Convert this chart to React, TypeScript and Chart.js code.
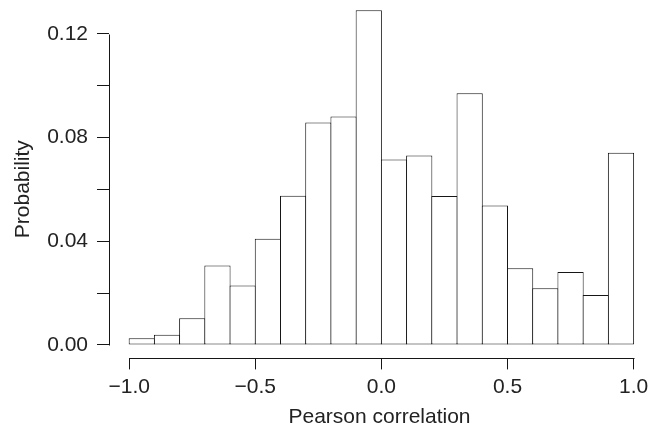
import React, { useEffect, useRef } from "react";
import { Chart, registerables } from "chart.js";

Chart.register(...registerables);

// Histogram bins (centres of 0.1-wide bins from -1 to 1)
const binCenters = [
  -0.95, -0.85, -0.75, -0.65, -0.55, -0.45, -0.35, -0.25, -0.15, -0.05,
  0.05, 0.15, 0.25, 0.35, 0.45, 0.55, 0.65, 0.75, 0.85, 0.95,
];
const probabilities = [
  0.0026, 0.004, 0.0103, 0.0307, 0.023, 0.041, 0.0576, 0.0858, 0.0882, 0.1291,
  0.0716, 0.0731, 0.0575, 0.0971, 0.0538, 0.0296, 0.0219, 0.0282, 0.0193, 0.0742,
];

const xTickValues = [-1, -0.5, 0, 0.5, 1];
const xTickLabels = ["\u22121.0", "\u22120.5", "0.0", "0.5", "1.0"];
const yTickValues = [0, 0.02, 0.04, 0.06, 0.08, 0.1, 0.12];
const yTickLabels = ["0.00", "", "0.04", "", "0.08", "", "0.12"];

const xTitle = "Pearson correlation";
const yTitle = "Probability";

const INK = "#161616";
const TEXT = "#222222";
const FONT = "'Liberation Sans', Arial, Helvetica, sans-serif";
const FS = 21;

export default function App() {
  const ref = useRef<HTMLCanvasElement | null>(null);

  useEffect(() => {
    if (!ref.current) return;

    const axisDecor = {
      id: "rAxisDecor",
      afterDraw(chart: any) {
        const { ctx, chartArea, scales } = chart;
        const xs = scales.x;
        const ys = scales.y;
        ctx.save();
        ctx.strokeStyle = INK;
        ctx.lineWidth = 1;
        const yx = Math.round(chartArea.left) + 0.5;
        ctx.beginPath();
        ctx.moveTo(yx, Math.round(ys.getPixelForValue(yTickValues[0])) + 0.5);
        ctx.lineTo(yx, Math.round(ys.getPixelForValue(yTickValues[yTickValues.length - 1])) + 0.5);
        ctx.stroke();
        const xy = Math.round(chartArea.bottom) + 0.5;
        ctx.beginPath();
        ctx.moveTo(Math.round(xs.getPixelForValue(xTickValues[0])) + 0.5, xy);
        ctx.lineTo(Math.round(xs.getPixelForValue(xTickValues[xTickValues.length - 1])) + 0.5, xy);
        ctx.stroke();

        // y-axis title, centred a little below the middle of the plot region (as in R's mtext)
        ctx.fillStyle = TEXT;
        ctx.font = `${FS}px ${FONT}`;
        ctx.textAlign = "center";
        ctx.textBaseline = "middle";
        ctx.translate(23, (chartArea.top + chartArea.bottom) / 2 + 10);
        ctx.rotate(-Math.PI / 2);
        ctx.fillText(yTitle, 0, 0);
        ctx.restore();
      },
    };

    const chart = new Chart(ref.current, {
      type: "bar",
      data: {
        datasets: [
          {
            data: binCenters.map((c, i) => ({ x: c, y: probabilities[i] })),
            backgroundColor: "#ffffff",
            borderColor: INK,
            borderWidth: 1,
            borderSkipped: false,
            barPercentage: 1.04,
            categoryPercentage: 1,
          } as any,
        ],
      },
      options: {
        animation: false,
        responsive: false,
        maintainAspectRatio: false,
        layout: { padding: 0 },
        plugins: {
          legend: { display: false },
          tooltip: { enabled: false },
        },
        scales: {
          x: {
            type: "linear",
            min: -1.08,
            max: 1.065,
            offset: false,
            afterBuildTicks: (s: any) => {
              s.ticks = xTickValues.map((v) => ({ value: v }));
            },
            afterFit: (s: any) => {
              s.height = 70.6;
              s.paddingLeft = 0;
              s.paddingRight = 0;
              s.paddingTop = 0;
              s.paddingBottom = 0;
            },
            ticks: {
              autoSkip: false,
              maxRotation: 0,
              minRotation: 0,
              padding: 5,
              color: TEXT,
              font: { family: FONT, size: FS },
              callback: (_v: any, i: number) => xTickLabels[i],
            },
            grid: {
              offset: false,
              drawOnChartArea: false,
              drawTicks: true,
              tickLength: 11,
              color: INK,
              lineWidth: 1,
            },
            border: { display: false },
            title: {
              display: true,
              text: xTitle,
              color: TEXT,
              font: { family: FONT, size: FS },
              padding: { top: 0, bottom: -1 },
            },
          },
          y: {
            type: "linear",
            min: -0.00517,
            max: 0.1331,
            afterBuildTicks: (s: any) => {
              s.ticks = yTickValues.map((v) => ({ value: v }));
            },
            afterFit: (s: any) => {
              s.width = 109;
              s.paddingLeft = 0;
              s.paddingRight = 0;
              s.paddingTop = 0;
              s.paddingBottom = 0;
            },
            ticks: {
              autoSkip: false,
              padding: 9,
              color: TEXT,
              font: { family: FONT, size: FS },
              callback: (_v: any, i: number) => yTickLabels[i],
            },
            grid: {
              drawOnChartArea: false,
              drawTicks: true,
              tickLength: 12,
              color: INK,
              lineWidth: 1,
            },
            border: { display: false },
            title: { display: false },
          },
        },
      },
      plugins: [axisDecor],
    });

    return () => chart.destroy();
  }, []);

  return (
    <div
      style={{
        position: "fixed",
        left: 0,
        top: 0,
        width: 650,
        height: 429,
        background: "#ffffff",
      }}
    >
      <canvas ref={ref} width={650} height={429} style={{ display: "block" }} />
    </div>
  );
}
